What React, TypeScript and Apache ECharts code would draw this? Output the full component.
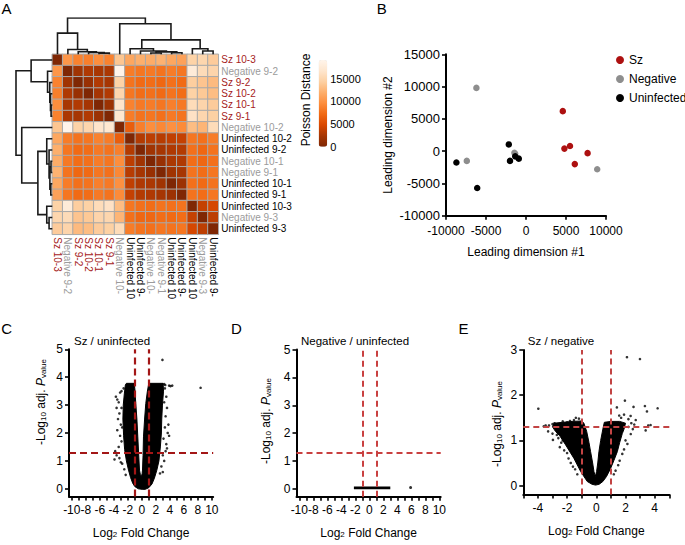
import React, { useEffect, useRef } from 'react';
import * as echarts from 'echarts';

const FONT = "'Liberation Sans', Arial, Helvetica, sans-serif";

// ---------- Panel A data ----------
const sampleNames = ['Sz 10-3', 'Negative 9-2', 'Sz 9-2', 'Sz 10-2', 'Sz 10-1', 'Sz 9-1', 'Negative 10-2', 'Uninfected 10-2', 'Uninfected 9-2', 'Negative 10-1', 'Negative 9-1', 'Uninfected 10-1', 'Uninfected 9-1', 'Uninfected 10-3', 'Negative 9-3', 'Uninfected 9-3'];
const sampleGroups = ['Sz', 'Negative', 'Sz', 'Sz', 'Sz', 'Sz', 'Negative', 'Uninfected', 'Uninfected', 'Negative', 'Negative', 'Uninfected', 'Uninfected', 'Uninfected', 'Negative', 'Uninfected'];
const labelColors: Record<string, string> = { Sz: '#a61c1c', Negative: '#9b9b9b', Uninfected: '#000000' };
const dotColors: Record<string, string> = { Sz: '#ad1010', Negative: '#8e8e8e', Uninfected: '#000000' };

const poissonDistances: number[][] = [
  [0, 10200, 8800, 8600, 9600, 8800, 13600, 11400, 12000, 11800, 12200, 11400, 11000, 14600, 15000, 14000],
  [10200, 0, 2000, 2800, 2500, 2600, 19000, 8400, 8000, 8200, 7800, 8400, 8000, 17500, 15500, 14800],
  [8800, 2000, 0, 1500, 2900, 2400, 14600, 7800, 7200, 7400, 7000, 7600, 7200, 14200, 13500, 12800],
  [8600, 2800, 1500, 0, 2300, 2900, 15000, 8000, 7400, 7600, 7200, 7800, 7400, 14500, 13800, 13000],
  [9600, 2500, 2900, 2300, 0, 1700, 16600, 8800, 8200, 8400, 8000, 8600, 8200, 15600, 14800, 14000],
  [8800, 2600, 2400, 2900, 1700, 0, 17000, 8400, 7800, 8000, 7600, 8200, 7800, 16200, 15000, 14400],
  [13600, 19000, 14600, 15000, 16600, 17000, 0, 6400, 8600, 9600, 9200, 9800, 9400, 13000, 12400, 15600],
  [11400, 8400, 7800, 8000, 8800, 8400, 6400, 0, 3000, 3400, 3200, 3600, 3800, 8000, 7600, 8400],
  [12000, 8000, 7200, 7400, 8200, 7800, 8600, 3000, 0, 2000, 2400, 2800, 3000, 7600, 7000, 7800],
  [11800, 8200, 7400, 7600, 8400, 8000, 9600, 3400, 2000, 0, 1500, 2600, 2800, 7400, 7000, 7600],
  [12200, 7800, 7000, 7200, 8000, 7600, 9200, 3200, 2400, 1500, 0, 2000, 2400, 7800, 7400, 8000],
  [11400, 8400, 7600, 7800, 8600, 8200, 9800, 3600, 2800, 2600, 2000, 0, 1800, 7600, 7200, 7800],
  [11000, 8000, 7200, 7400, 8200, 7800, 9400, 3800, 3000, 2800, 2400, 1800, 0, 7800, 7400, 8000],
  [14600, 17500, 14200, 14500, 15600, 16200, 13000, 8000, 7600, 7400, 7800, 7600, 7800, 0, 3800, 4600],
  [15000, 15500, 13500, 13800, 14800, 15000, 12400, 7600, 7000, 7000, 7400, 7200, 7400, 3800, 0, 3400],
  [14000, 14800, 12800, 13000, 14000, 14400, 15600, 8400, 7800, 7600, 8000, 7800, 8000, 4600, 3400, 0],
];
const distanceMax = 19100;
const colorbarTicks = [0, 5000, 10000, 15000];
const orangesReversed = ['#7f2704', '#a63603', '#d94801', '#f16913', '#fd8d3c', '#fdae6b', '#fdd0a2', '#fee6ce', '#fff5eb'];

// dendrogram merges: [childA, childB, height]; new node id = 16 + index
const dendroMerges: [number, number, number][] = [
  [4, 5, 1.2], [3, 16, 1.8], [2, 17, 2.5], [1, 18, 4.7], [0, 19, 21],
  [9, 10, 1.3], [11, 12, 1.5], [21, 22, 2.4], [8, 23, 3.2], [7, 24, 5.5],
  [14, 15, 3.2], [13, 26, 5.5], [25, 27, 14.3], [6, 28, 30.3], [20, 29, 36],
];
const dendroMaxHeight = 36;

// ---------- Panel B data ----------
const mdsGroups = ['Sz', 'Negative', 'Uninfected'];
const szPoints = [[4600, 6200], [4800, 400], [5500, 800], [7700, -300], [6100, -2000]];
const negativePoints = [[-6200, 9800], [-7400, -1500], [-1450, -250], [-1350, -400], [8900, -2800]];
const uninfectedPoints = [[-8700, -1750], [-6100, -5700], [-2150, 1050], [-2000, -1500], [-1350, -800], [-900, -1150]];

// ---------- Volcano data ----------
const fcThresholds = [-1, 1];
const pThreshold = 1.3;
const wideXTicks = [-10, -9, -8, -7, -6, -5, -4, -3, -2, -1, 0, 1, 2, 3, 4, 5, 6, 7, 8, 9, 10];
const wideXLabels = [-10, -8, -6, -4, -2, 0, 2, 4, 6, 8, 10];
const wideYTicks = [0, 1, 2, 3, 4, 5];
const narrowXTicks = [-5, -4, -3, -2, -1, 0, 1, 2, 3, 4, 5];
const narrowXLabels = [-4, -2, 0, 2, 4];
const narrowYTicks = [0, 1, 2, 3];

// C: Sz / uninfected — dense cloud outline + scattered genes
const szUninfCloud = [
  [0.05, -0.02], [-0.5, 0.0], [-1.0, 0.08], [-1.3, 0.2], [-1.6, 0.4], [-1.9, 0.67], [-2.2, 1.0], [-2.45, 1.4],
  [-2.6, 1.9], [-2.7, 2.5], [-2.65, 3.0], [-2.5, 3.4], [-2.35, 3.72], [-2.2, 3.78], [-1.1, 3.78],
  [-1.0, 3.6], [-0.86, 3.06], [-0.7, 2.5], [-0.57, 1.86], [-0.45, 1.25], [-0.33, 0.67], [-0.2, 0.5], [-0.08, 0.42],
  [0.05, 0.55], [0.1, 0.67], [0.18, 1.2], [0.24, 1.86], [0.4, 2.5], [0.57, 3.06], [0.8, 3.5], [1.0, 3.78],
  [3.05, 3.78], [3.1, 3.5], [2.95, 3.0], [2.85, 2.5], [2.8, 2.0], [2.65, 1.5], [2.45, 1.0], [2.15, 0.67],
  [1.8, 0.38], [1.45, 0.17], [1.0, 0.04], [0.5, -0.02],
];
const szUninfGenes = [
  [-3.7, 3.3], [-3.5, 3.2], [-3.3, 3.1], [-3.6, 2.9], [-3.2, 2.7], [-3.4, 2.5], [-3.0, 2.3], [-3.5, 2.1],
  [-3.1, 1.9], [-2.9, 1.7], [-3.3, 1.5], [-3.8, 1.35], [-3.6, 1.2], [-3.9, 1.05], [-3.2, 1.1], [-2.8, 0.9],
  [-2.5, 0.7], [-2.3, 0.5], [-3.0, 0.95], [-2.9, 3.5], [-3.1, 3.45], [-2.6, 3.6], [-2.8, 2.2], [-2.9, 2.9],
  [3.3, 3.6], [3.5, 3.3], [3.2, 3.1], [3.6, 2.9], [3.4, 2.6], [3.8, 2.3], [3.3, 2.2], [3.7, 2.0], [3.1, 1.8],
  [3.5, 1.6], [3.4, 1.35], [3.0, 1.2], [3.2, 1.0], [2.8, 0.8], [2.6, 0.55], [3.9, 1.9], [3.6, 1.45], [3.0, 0.6],
  [3.2, 3.75], [3.35, 3.72], [2.95, 4.62], [3.9, 3.7], [4.35, 3.7], [4.1, 3.68], [8.4, 3.62],
];

// D: Negative / uninfected
const negUninfBand = [[-2.2, 0.04], [3.0, 0.04]];
const negUninfGenes = [[5.9, 0.05]];

// E: Sz / negative
const szNegCloud = [
  [-0.05, 0.01], [-0.3, 0.03], [-0.62, 0.09], [-1.07, 0.31], [-1.53, 0.6], [-2.1, 0.9], [-2.5, 1.1], [-2.8, 1.2],
  [-3.0, 1.3], [-2.9, 1.38], [-2.3, 1.4], [-1.6, 1.42], [-1.0, 1.43], [-0.85, 1.38], [-0.66, 1.2], [-0.5, 0.95],
  [-0.39, 0.75], [-0.25, 0.5], [-0.16, 0.31], [-0.07, 0.2], [0.02, 0.31], [0.1, 0.5], [0.18, 0.75], [0.3, 1.0],
  [0.45, 1.25], [0.55, 1.4], [1.0, 1.42], [1.6, 1.42], [2.0, 1.38], [1.9, 1.25], [1.78, 1.15], [1.6, 0.95],
  [1.44, 0.75], [1.2, 0.55], [0.98, 0.38], [0.7, 0.2], [0.45, 0.09], [0.2, 0.03],
];
const szNegGenes = [
  [-3.47, 1.33], [-3.24, 1.33], [-2.86, 1.38], [-2.57, 1.34], [-2.0, 1.4], [-1.53, 1.45], [-1.19, 1.48], [-3.6, 1.31],
  [-3.0, 1.36], [-2.3, 1.42], [-1.8, 1.43], [-1.4, 1.5], [-2.97, 1.01], [-3.0, 1.15], [-2.6, 1.05], [-2.4, 0.95],
  [-2.2, 0.78], [-2.5, 0.85], [-2.0, 0.72], [-1.9, 0.6], [-1.75, 0.5], [-1.6, 0.42], [-1.45, 0.36], [-1.3, 0.25],
  [-2.7, 1.12], [-2.3, 1.0], [-3.3, 1.2], [2.36, 1.14], [2.13, 0.92], [1.78, 0.7], [1.32, 0.33], [2.2, 1.3],
  [2.4, 1.38], [2.6, 1.35], [2.0, 1.0], [1.9, 0.8], [1.6, 0.55], [1.5, 0.45], [2.5, 1.25], [1.2, 0.25],
  [-3.97, 1.7], [2.1, 2.84], [2.99, 2.8], [1.96, 1.88], [2.55, 1.74], [3.33, 1.76], [3.47, 1.64], [4.2, 1.71],
  [3.38, 1.22], [3.72, 1.34], [3.56, 1.33], [1.41, 1.73], [1.9, 1.57], [1.57, 1.55], [2.35, 1.54], [2.2, 1.47],
  [2.7, 1.45], [1.7, 1.5],
];

// ---------- helpers ----------
function dendroSegments() {
  const n = sampleNames.length;
  const pos: number[] = [];
  const hgt: number[] = [];
  for (let i = 0; i < n; i++) { pos[i] = i + 0.5; hgt[i] = 0; }
  const segs: number[][][] = [];
  dendroMerges.forEach(([a, b, h], k) => {
    const id = n + k;
    pos[id] = (pos[a] + pos[b]) / 2;
    hgt[id] = h;
    segs.push([[pos[a], hgt[a]], [pos[a], h], [pos[b], h], [pos[b], hgt[b]]]);
  });
  return segs;
}

const axisLineStyle = { show: true, onZero: false, lineStyle: { color: '#000', width: 2 } };
const tickStyle = (len: number) => ({ show: true, length: len, lineStyle: { color: '#000', width: 1.6 } });

const subRich = {
  sub: { fontSize: 8, lineHeight: 10, padding: [8, 0, 0, 0], verticalAlign: 'bottom', fontFamily: FONT, color: '#000' },
  it: { fontSize: 12, fontStyle: 'italic', fontFamily: FONT, color: '#000' },
};
const yNameText = '-Log{sub|10} adj. {it|P}{sub|value}';

function volcanoAxes(gi: number, xMin: number, xMax: number, xTicks: number[], xLabels: number[], yMin: number, yMax: number, yTicks: number[]) {
  const x = {
    gridIndex: gi, type: 'value', min: xMin, max: xMax,
    axisLine: axisLineStyle,
    axisTick: { ...tickStyle(4), customValues: xTicks },
    axisLabel: { customValues: xLabels, fontSize: 12, color: '#000', margin: 7, fontFamily: FONT },
    splitLine: { show: false },
    name: 'Log{sub|2} Fold Change', nameLocation: 'middle', nameGap: 30,
    nameTextStyle: { fontSize: 12, color: '#000', fontFamily: FONT, rich: subRich },
  };
  const y = {
    gridIndex: gi, type: 'value', min: yMin, max: yMax,
    axisLine: axisLineStyle,
    axisTick: { ...tickStyle(4), customValues: yTicks },
    axisLabel: { customValues: yTicks, fontSize: 12, color: '#000', margin: 6, fontFamily: FONT },
    splitLine: { show: false },
  };
  return { x, y };
}

function cloudSeries(pts: number[][], ai: number) {
  return {
    type: 'custom', xAxisIndex: ai, yAxisIndex: ai, silent: true, z: 2, clip: true,
    data: [[0, 0]],
    renderItem: (_p: any, api: any) => ({
      type: 'polygon',
      shape: { points: pts.map((p) => api.coord(p)) },
      style: { fill: '#000', stroke: '#000', lineWidth: 1 },
    }),
  };
}
function genesSeries(pts: number[][], ai: number, size = 2.6) {
  return { type: 'scatter', xAxisIndex: ai, yAxisIndex: ai, data: pts, symbolSize: size, itemStyle: { color: '#000' }, silent: true, z: 3 };
}
function thresholdSeries(ai: number, color: string, width: number, dash: number[]) {
  return {
    type: 'line', xAxisIndex: ai, yAxisIndex: ai, data: [], z: 5, silent: true,
    markLine: {
      silent: true, symbol: ['none', 'none'], label: { show: false }, animation: false,
      lineStyle: { color, width, type: dash },
      data: [...fcThresholds.map((v) => ({ xAxis: v })), { yAxis: pThreshold }],
    },
  };
}

function buildOption() {
  const n = sampleNames.length;
  const heat: number[][] = [];
  poissonDistances.forEach((row, r) => row.forEach((v, c) => heat.push([c, r, v])));
  const segs = dendroSegments();

  const C = volcanoAxes(5, -10.4, 10.2, wideXTicks, wideXLabels, -0.28, 5, wideYTicks);
  const D = volcanoAxes(6, -10.4, 10.2, wideXTicks, wideXLabels, -0.28, 5, wideYTicks);
  const E = volcanoAxes(7, -5, 5, narrowXTicks, narrowXLabels, -0.2, 3, narrowYTicks);

  const text = (t: string, x: number, y: number, size: number, extra: any = {}) => ({
    type: 'text', x, y, silent: true, ...extra,
    style: { text: t, fill: '#000', font: `${size}px ${FONT}`, textAlign: 'center', textVerticalAlign: 'middle', ...(extra.style || {}) },
  });
  const yName = (x: number, y: number) => ({
    type: 'text', x, y, rotation: Math.PI / 2, silent: true,
    style: { text: yNameText, rich: subRich, fill: '#000', font: `12px ${FONT}`, textAlign: 'center', textVerticalAlign: 'middle' },
  });

  return {
    animation: false,
    backgroundColor: '#ffffff',
    textStyle: { fontFamily: FONT },
    grid: [
      { left: 52.3, top: 54.3, width: 166, height: 180 },
      { left: 52.3, top: 18, width: 166, height: 36.3 },
      { left: 16, top: 54.3, width: 36.3, height: 180 },
      { left: 318.7, top: 60, width: 8.5, height: 86.7 },
      { left: 446, top: 54.3, width: 160, height: 161.5 },
      { left: 69, top: 349.3, width: 144.2, height: 147.3 },
      { left: 296.5, top: 349.5, width: 144.2, height: 147.3 },
      { left: 523.3, top: 350, width: 146, height: 144.6 },
    ],
    xAxis: [
      {
        gridIndex: 0, type: 'category', data: sampleNames, position: 'bottom',
        axisLine: { show: false }, axisTick: { show: false }, splitLine: { show: false },
        axisLabel: {
          rotate: -90, fontSize: 10, margin: 3, interval: 0, fontFamily: FONT,
          width: 63, overflow: 'truncate', ellipsis: '',
          color: (_v: any, i: number) => labelColors[sampleGroups[i]],
        },
      },
      { gridIndex: 1, type: 'value', min: 0, max: n, show: false },
      { gridIndex: 2, type: 'value', min: 0, max: dendroMaxHeight, inverse: true, show: false },
      { gridIndex: 3, type: 'value', min: 0, max: 1, show: false },
      {
        gridIndex: 4, type: 'value', min: -10000, max: 10000, interval: 5000,
        axisLine: axisLineStyle, axisTick: tickStyle(4), splitLine: { show: false },
        axisLabel: { fontSize: 12, color: '#000', margin: 9, fontFamily: FONT, formatter: (v: number) => String(v) },
        name: 'Leading dimension #1', nameLocation: 'middle', nameGap: 30,
        nameTextStyle: { fontSize: 12, color: '#000', fontFamily: FONT },
      },
      C.x, D.x, E.x,
    ],
    yAxis: [
      {
        gridIndex: 0, type: 'category', data: sampleNames, position: 'right', inverse: true,
        axisLine: { show: false }, axisTick: { show: false }, splitLine: { show: false },
        axisLabel: {
          fontSize: 10, margin: 3, interval: 0, fontFamily: FONT,
          color: (_v: any, i: number) => labelColors[sampleGroups[i]],
        },
      },
      { gridIndex: 1, type: 'value', min: 0, max: dendroMaxHeight, show: false },
      { gridIndex: 2, type: 'value', min: 0, max: n, inverse: true, show: false },
      {
        gridIndex: 3, type: 'value', min: 0, max: distanceMax, position: 'right',
        axisLine: { show: false }, axisTick: { show: false }, splitLine: { show: false },
        axisLabel: { customValues: colorbarTicks, fontSize: 11, color: '#000', margin: 3, fontFamily: FONT, formatter: (v: number) => String(v) },
      },
      {
        gridIndex: 4, type: 'value', min: -10000, max: 15000, interval: 5000,
        axisLine: axisLineStyle, axisTick: tickStyle(4), splitLine: { show: false },
        axisLabel: { fontSize: 13, color: '#000', margin: 6, fontFamily: FONT, formatter: (v: number) => String(v) },
        name: 'Leading dimension #2', nameLocation: 'middle', nameGap: 52,
        nameTextStyle: { fontSize: 12, color: '#000', fontFamily: FONT },
      },
      C.y, D.y, E.y,
    ],
    visualMap: {
      type: 'continuous', seriesIndex: 0, min: 0, max: distanceMax, calculable: false,
      left: 318.7, top: 60, itemWidth: 8.5, itemHeight: 86.7, padding: 0, text: null,
      showLabel: false, inRange: { color: orangesReversed },
    },
    legend: {
      data: mdsGroups, orient: 'vertical', left: 616, top: 54, padding: 0,
      itemWidth: 8, itemHeight: 8, itemGap: 7, icon: 'circle',
      textStyle: { fontSize: 12, color: '#000', fontFamily: FONT },
    },
    series: [
      {
        type: 'heatmap', xAxisIndex: 0, yAxisIndex: 0, data: heat, silent: true,
        itemStyle: { borderColor: '#a9a9a9', borderWidth: 1 },
      },
      {
        type: 'lines', coordinateSystem: 'cartesian2d', xAxisIndex: 1, yAxisIndex: 1, polyline: true, silent: true,
        lineStyle: { color: '#1a1a1a', width: 1.6, opacity: 1 },
        data: segs.map((s) => ({ coords: s })),
      },
      {
        type: 'lines', coordinateSystem: 'cartesian2d', xAxisIndex: 2, yAxisIndex: 2, polyline: true, silent: true,
        lineStyle: { color: '#1a1a1a', width: 1.6, opacity: 1 },
        data: segs.map((s) => ({ coords: s.map(([p, h]) => [h, p]) })),
      },
      { name: 'Sz', type: 'scatter', xAxisIndex: 4, yAxisIndex: 4, data: szPoints, symbolSize: 6.5, itemStyle: { color: dotColors.Sz, opacity: 1 } },
      { name: 'Negative', type: 'scatter', xAxisIndex: 4, yAxisIndex: 4, data: negativePoints, symbolSize: 6.5, itemStyle: { color: dotColors.Negative, opacity: 1 } },
      { name: 'Uninfected', type: 'scatter', xAxisIndex: 4, yAxisIndex: 4, data: uninfectedPoints, symbolSize: 6.5, itemStyle: { color: dotColors.Uninfected, opacity: 1 } },
      cloudSeries(szUninfCloud, 5),
      genesSeries(szUninfGenes, 5),
      thresholdSeries(5, '#a31616', 2.2, [7, 4]),
      {
        type: 'line', xAxisIndex: 6, yAxisIndex: 6, data: negUninfBand, symbol: 'none', silent: true, z: 3,
        lineStyle: { color: '#000', width: 2.6 },
      },
      genesSeries(negUninfGenes, 6, 3),
      thresholdSeries(6, '#c94040', 2, [6, 4]),
      cloudSeries(szNegCloud, 7),
      genesSeries(szNegGenes, 7),
      thresholdSeries(7, '#c24444', 2, [6, 4]),
    ],
    graphic: [
      text('A', 6.5, 8.5, 15),
      text('B', 381.7, 8.5, 15),
      text('C', 6.7, 328.5, 15),
      text('D', 236.5, 328.5, 15),
      text('E', 463.5, 328.5, 15),
      text('Poisson Distance', 306, 100, 12, { rotation: Math.PI / 2 }),
      text('Sz / uninfected', 112, 341, 11.5),
      text('Negative / uninfected', 355, 341, 11.5),
      text('Sz / negative', 561, 341, 11.5),
      yName(41, 402),
      yName(266, 421),
      yName(497, 424),
    ],
  };
}

export default function App() {
  const ref = useRef<HTMLDivElement>(null);
  useEffect(() => {
    if (!ref.current) return;
    const chart = echarts.init(ref.current, undefined, { renderer: 'svg' });
    chart.setOption(buildOption() as any);
    return () => chart.dispose();
  }, []);
  return <div ref={ref} style={{ position: 'fixed', left: 0, top: 0, width: 685, height: 545, background: '#fff' }} />;
}
